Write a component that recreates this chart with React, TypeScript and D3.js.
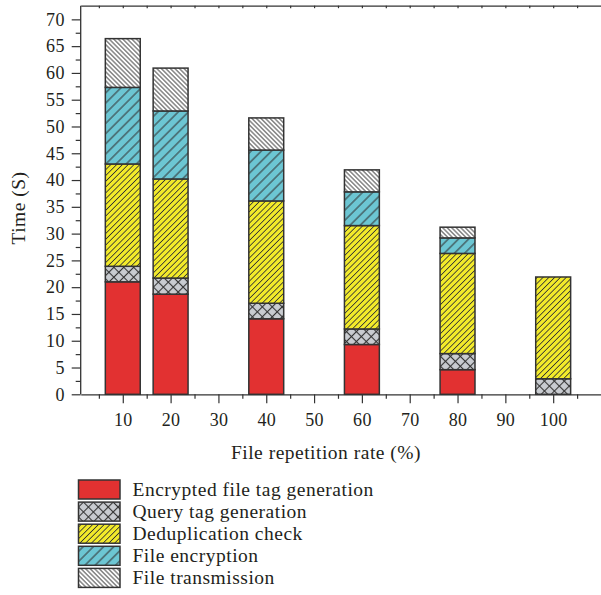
import * as d3 from 'd3';
import { useEffect, useRef } from 'react';

// chart values
const rates = [10, 20, 40, 60, 80, 100];
const encryptedTag = [21.0, 18.7, 14.1, 9.3, 4.6, 0];
const queryTag = [2.9, 3.0, 2.9, 2.9, 3.0, 2.9];
const dedupCheck = [19.1, 18.5, 19.1, 19.3, 18.7, 19.0];
const fileEncryption = [14.3, 12.7, 9.5, 6.3, 2.9, 0];
const fileTransmission = [9.1, 8.0, 6.0, 4.1, 2.0, 0];

const seriesNames = [
    'Encrypted file tag generation',
    'Query tag generation',
    'Deduplication check',
    'File encryption',
    'File transmission',
];
const seriesKeys = ['enc', 'query', 'dedup', 'fenc', 'trans'];
const xTickValues = [10, 20, 30, 40, 50, 60, 70, 80, 90, 100];
const yTickValues = [0, 5, 10, 15, 20, 25, 30, 35, 40, 45, 50, 55, 60, 65, 70];

const FONT = '"Liberation Serif", "DejaVu Serif", serif';
const INK = '#333';
const TEXT = '#231f20';

function App() {
    return <StackedChart />;
}

const StackedChart = () => {
    const svgRef = useRef<SVGSVGElement | null>(null);

    useEffect(() => {
        const w = 601;
        const h = 595;
        const left = 80.7;
        const right = 601;
        const top = 5.7;
        const bottom = 394.3;
        const barWidth = 7.3;

        const svg = d3.select(svgRef.current);
        svg.selectAll('*').remove();
        svg.attr('width', w).attr('height', h);

        const rows = rates.map((r, i) => ({
            rate: r,
            enc: encryptedTag[i],
            query: queryTag[i],
            dedup: dedupCheck[i],
            fenc: fileEncryption[i],
            trans: fileTransmission[i],
        }));

        const x = d3.scaleLinear().domain([1.2, 110]).range([left, right]);
        const y = d3.scaleLinear().domain([0, 72.55]).range([bottom, top]);

        // hatch patterns
        const defs = svg.append('defs');
        const hatch = (id: string, bg: string, size: number, angles: number[], sw: number) => {
            angles.forEach((a, k) => {
                const p = defs
                    .append('pattern')
                    .attr('id', k === 0 ? id : `${id}-${k}`)
                    .attr('patternUnits', 'userSpaceOnUse')
                    .attr('width', size)
                    .attr('height', size)
                    .attr('patternTransform', `rotate(${a})`);
                if (k === 0) p.append('rect').attr('width', size).attr('height', size).attr('fill', bg);
                p.append('line')
                    .attr('x1', size / 2)
                    .attr('x2', size / 2)
                    .attr('y1', -1)
                    .attr('y2', size + 1)
                    .attr('stroke', INK)
                    .attr('stroke-width', sw);
            });
        };
        hatch('p-query', '#c9ccd1', 7, [45, -45], 1.1);
        hatch('p-dedup', '#f2ea2a', 4.1, [45], 0.85);
        hatch('p-fenc', '#6cc6d3', 7.2, [45], 1.0);
        hatch('p-trans', '#ffffff', 3.2, [-45], 0.9);

        const fills: Record<string, string[]> = {
            enc: ['#e23131'],
            query: ['url(#p-query)', 'url(#p-query-1)'],
            dedup: ['url(#p-dedup)'],
            fenc: ['url(#p-fenc)'],
            trans: ['url(#p-trans)'],
        };

        const stack = d3.stack<any>().keys(seriesKeys);
        const layers = stack(rows);

        layers.forEach((layer) => {
            const key = layer.key;
            const segs = layer.filter((d) => d[1] - d[0] > 0);
            fills[key].forEach((f) => {
                svg.append('g')
                    .selectAll('rect')
                    .data(segs)
                    .enter()
                    .append('rect')
                    .attr('x', (d) => x(d.data.rate - barWidth / 2))
                    .attr('y', (d) => y(d[1]))
                    .attr('width', x(barWidth) - x(0))
                    .attr('height', (d) => y(d[0]) - y(d[1]))
                    .attr('fill', f);
            });
            svg.append('g')
                .selectAll('rect')
                .data(segs)
                .enter()
                .append('rect')
                .attr('x', (d) => x(d.data.rate - barWidth / 2))
                .attr('y', (d) => y(d[1]))
                .attr('width', x(barWidth) - x(0))
                .attr('height', (d) => y(d[0]) - y(d[1]))
                .attr('fill', 'none')
                .attr('stroke', INK)
                .attr('stroke-width', 1.5);
        });

        // axes (minor ticks in their own groups so the major labels survive)
        const yMinor = d3.range(2.5, 72, 5);
        const xMinor = d3.range(5, 110, 10);

        svg.append('g')
            .attr('transform', `translate(${left},0)`)
            .call(d3.axisLeft(y).tickValues(yMinor).tickSize(5).tickFormat(() => '').tickSizeOuter(0))
            .select('.domain')
            .remove();
        const yAxis = svg.append('g').attr('transform', `translate(${left},0)`);
        yAxis.call(
            d3.axisLeft(y).tickValues(yTickValues).tickSize(9).tickPadding(7).tickSizeOuter(0)
        );
        yAxis.selectAll('.domain').attr('d', `M0,${top}V${bottom}`);

        svg.append('g')
            .attr('transform', `translate(0,${bottom})`)
            .call(d3.axisBottom(x).tickValues(xMinor).tickSize(4.5).tickFormat(() => '').tickSizeOuter(0))
            .select('.domain')
            .remove();
        const xAxis = svg.append('g').attr('transform', `translate(0,${bottom})`);
        xAxis.call(
            d3.axisBottom(x).tickValues(xTickValues).tickSize(9).tickPadding(10).tickSizeOuter(0)
        );

        const topAxis = svg.append('g').attr('transform', `translate(0,${top})`);
        topAxis.call(
            d3.axisBottom(x).tickValues(d3.range(5, 110, 5)).tickSize(2.5).tickFormat(() => '').tickSizeOuter(0)
        );

        svg.selectAll('.domain').attr('stroke', INK).attr('stroke-width', 1.3);
        svg.selectAll('.tick line').attr('stroke', INK).attr('stroke-width', 1.2);
        svg.selectAll('.tick text')
            .attr('font-family', FONT)
            .attr('font-size', 18)
            .attr('letter-spacing', 0.3)
            .attr('fill', TEXT);

        svg.append('text')
            .attr('transform', `translate(25,${(top + bottom) / 2 + 8}) rotate(-90)`)
            .attr('text-anchor', 'middle')
            .attr('font-family', FONT)
            .attr('font-size', 19.5)
            .attr('letter-spacing', 0.5)
            .attr('fill', TEXT)
            .text('Time (S)');

        svg.append('text')
            .attr('x', 326)
            .attr('y', 459)
            .attr('text-anchor', 'middle')
            .attr('font-family', FONT)
            .attr('font-size', 19.5)
            .attr('letter-spacing', 0.5)
            .attr('fill', TEXT)
            .text('File repetition rate (%)');

        // legend
        const legend = svg.append('g').attr('transform', 'translate(78.5,480)');
        seriesKeys.forEach((key, i) => {
            const g = legend.append('g').attr('transform', `translate(0,${i * 22.1})`);
            fills[key].forEach((f) => {
                g.append('rect').attr('width', 41.5).attr('height', 19).attr('fill', f);
            });
            g.append('rect')
                .attr('width', 41.5)
                .attr('height', 19)
                .attr('fill', 'none')
                .attr('stroke', INK)
                .attr('stroke-width', 1.5);
            g.append('text')
                .attr('x', 54)
                .attr('y', 15.5)
                .attr('font-family', FONT)
                .attr('font-size', 19.5)
                .attr('letter-spacing', 0.5)
                .attr('fill', TEXT)
                .text(seriesNames[i]);
        });
    }, []);

    return <svg ref={svgRef} style={{ position: 'absolute', left: 0, top: 0 }}></svg>;
};

export default App;
